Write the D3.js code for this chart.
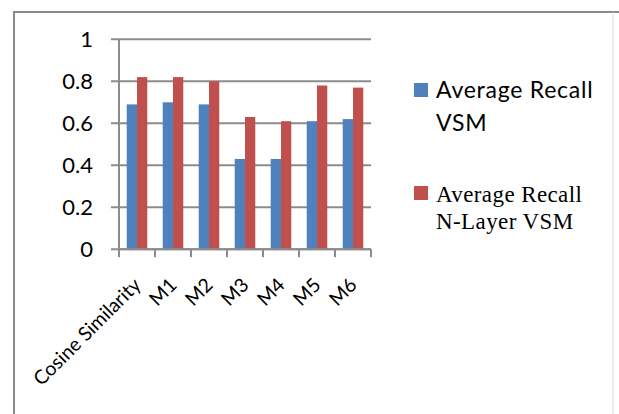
<!DOCTYPE html>
<html>
<head>
<meta charset="utf-8">
<script src="https://cdn.jsdelivr.net/npm/d3@7"></script>
<style>
  html, body { margin: 0; padding: 0; background: #fff; }
  svg { display: block; }
</style>
</head>
<body>
<svg id="chart" width="619" height="414"></svg>
<script>
// Average recall per similarity method
const categories = ["Cosine Similarity", "M1", "M2", "M3", "M4", "M5", "M6"];
const recallVSM = [0.69, 0.70, 0.69, 0.43, 0.43, 0.61, 0.62];
const recallNLayer = [0.82, 0.82, 0.80, 0.63, 0.61, 0.78, 0.77];
const seriesNames = [["Average Recall", "VSM"], ["Average Recall", "N-Layer VSM"]];
const yTicks = [0, 0.2, 0.4, 0.6, 0.8, 1];
const yTickLabels = ["0", "0.2", "0.4", "0.6", "0.8", "1"];

const colors = ["#4F81BD", "#C0504D"];
const gridColor = "#8c8c8c";

const svg = d3.select("#chart");

// outer frame
svg.append("path")
  .attr("d", "M14,414 L14,12 L619,12")
  .attr("fill", "none").attr("stroke", "#8a8a8a").attr("stroke-width", 2);
svg.append("line")
  .attr("x1", 613).attr("x2", 613).attr("y1", 12).attr("y2", 414)
  .attr("stroke", "#d9d9d9").attr("stroke-width", 1);

const plotLeft = 119, plotRight = 371, plotTop = 39.3, plotBottom = 249.3;

const x = d3.scaleBand().domain(categories).range([plotLeft, plotRight]).paddingInner(0).paddingOuter(0);
const x1 = d3.scaleBand().domain([0, 1]).range([0, x.bandwidth()]).paddingInner(0).paddingOuter(0.75);
const y = d3.scaleLinear().domain([0, 1]).range([plotBottom, plotTop]);

// horizontal gridlines with outward ticks
const gy = svg.append("g").attr("transform", `translate(${plotLeft},0)`);
gy.selectAll("line.grid").data(yTicks).join("line")
  .attr("class", "grid")
  .attr("x1", -8).attr("x2", plotRight - plotLeft)
  .attr("y1", d => y(d)).attr("y2", d => y(d))
  .attr("stroke", gridColor).attr("stroke-width", 2);
gy.append("line").attr("x1", 0).attr("x2", 0).attr("y1", plotTop).attr("y2", plotBottom)
  .attr("stroke", gridColor).attr("stroke-width", 2);
gy.selectAll("text").data(yTicks).join("text")
  .attr("x", -26).attr("y", d => y(d)).attr("dy", "0.36em")
  .attr("text-anchor", "end")
  .attr("font-family", "Lato, 'Open Sans', sans-serif")
  .attr("font-size", 22).attr("fill", "#000")
  .text((d, i) => yTickLabels[i]);

// bars
const groups = svg.append("g").selectAll("g").data(categories).join("g")
  .attr("transform", d => `translate(${x(d)},0)`);
groups.selectAll("rect").data((d, i) => [recallVSM[i], recallNLayer[i]]).join("rect")
  .attr("x", (v, j) => x1(j))
  .attr("width", x1.bandwidth())
  .attr("y", v => y(v))
  .attr("height", v => y(0) - y(v))
  .attr("fill", (v, j) => colors[j]);

// category axis
const boundaries = categories.map(c => x(c)).concat([plotRight]);
svg.append("line").attr("x1", plotLeft).attr("x2", plotRight).attr("y1", plotBottom).attr("y2", plotBottom)
  .attr("stroke", gridColor).attr("stroke-width", 2);
svg.append("g").selectAll("line").data(boundaries).join("line")
  .attr("x1", d => d).attr("x2", d => d).attr("y1", plotBottom).attr("y2", plotBottom + 8)
  .attr("stroke", gridColor).attr("stroke-width", 2);
svg.append("g").selectAll("text").data(categories).join("text")
  .attr("transform", d => `translate(${x(d) + x.bandwidth() / 2 + 5},${plotBottom + 37}) rotate(-45)`)
  .attr("text-anchor", "end")
  .attr("font-family", "Lato, 'Open Sans', sans-serif")
  .attr("font-size", 19.5).attr("fill", "#000")
  .text(d => d);

// legend
const legend = [
  { y0: 83, lines: [98.3, 130.7], font: "Lato, 'Open Sans', sans-serif", size: 23, spacing: 0.75 },
  { y0: 186, lines: [201.7, 229], font: "'Liberation Serif', 'Times New Roman', serif", size: 23, spacing: 0.4 }
];
legend.forEach((l, i) => {
  svg.append("rect").attr("x", 414).attr("y", l.y0).attr("width", 14).attr("height", 14)
    .attr("fill", colors[i]);
  seriesNames[i].forEach((t, k) => {
    svg.append("text").attr("x", 436).attr("y", l.lines[k])
      .attr("font-family", l.font).attr("font-size", l.size)
      .attr("letter-spacing", l.spacing).attr("fill", "#000")
      .text(t);
  });
});
</script>
</body>
</html>
